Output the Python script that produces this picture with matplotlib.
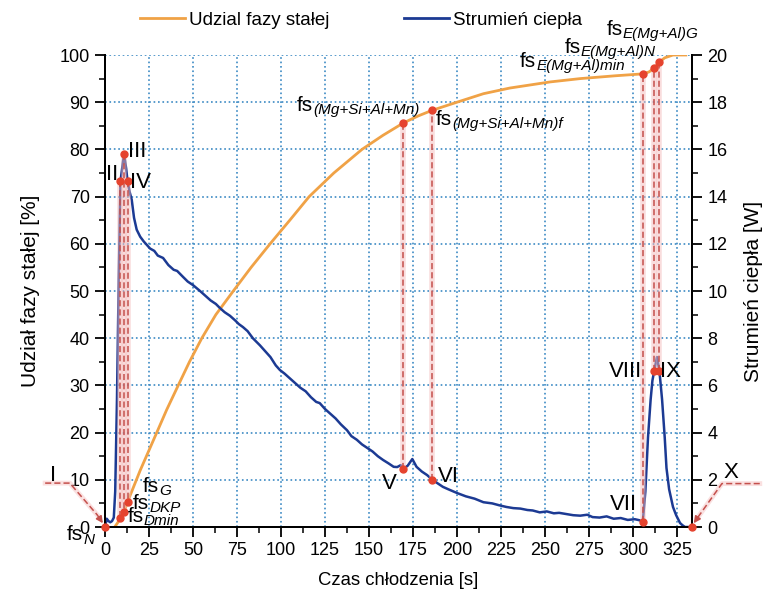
import matplotlib
matplotlib.use("Agg")
import matplotlib.pyplot as plt
from matplotlib.ticker import MultipleLocator
from matplotlib.lines import Line2D

plt.rcParams['font.family'] = ['Liberation Sans', 'DejaVu Sans']

# heat flow curve (right axis, W)
time_hf = [0, 1, 2, 3, 4, 5, 5.8, 6.8, 7.8, 8.8, 10.8, 12.0, 12.8, 14.0, 15.2, 16.5, 18, 20, 22,
           25.6, 28, 30, 33, 36, 39, 41, 44.3, 47, 50, 54, 57, 60, 63, 65, 68, 71, 74, 76,
           78.4, 81, 84, 88, 91, 94, 97, 99.4, 102, 105, 108, 111, 114, 117, 120, 122, 125,
           128, 131, 134, 137.5, 140, 143, 146, 149, 152, 155, 158, 161, 164, 166, 168,
           169.5, 172, 174.6, 177, 180, 183, 186, 189, 192, 195, 200, 205, 210, 215, 220,
           224, 228, 232, 236, 240, 243, 247, 251, 255, 258, 262, 266, 270, 274, 277, 281,
           285, 289, 293, 297, 301, 304, 305.5, 307, 308.5, 310, 311, 312, 313.6, 315,
           316.5, 318, 319, 320.5, 322.7, 324.5, 326.7, 328, 329.5, 333.5]
heat_flow = [0.0, 0.35, 0.25, 0.2, 0.25, 0.4, 1.5, 5.4, 10.5, 14.66, 15.8, 15.2, 14.66, 14.2,
             13.86, 13.1, 12.6, 12.3, 12.1, 11.8, 11.7, 11.5, 11.4, 11.1, 10.9, 10.85, 10.6,
             10.4, 10.25, 10.0, 9.8, 9.6, 9.45, 9.3, 9.1, 8.95, 8.75, 8.6, 8.47, 8.3, 8.0,
             7.7, 7.45, 7.2, 6.85, 6.65, 6.5, 6.3, 6.1, 5.9, 5.75, 5.5, 5.3, 5.25, 5.0, 4.8,
             4.6, 4.35, 4.1, 3.85, 3.7, 3.5, 3.35, 3.2, 3.0, 2.84, 2.7, 2.55, 2.54, 2.62,
             2.46, 2.6, 2.88, 2.55, 2.35, 2.2, 2.0, 1.85, 1.7, 1.6, 1.44, 1.3, 1.2, 1.05,
             1.0, 0.92, 0.85, 0.8, 0.78, 0.72, 0.7, 0.62, 0.66, 0.58, 0.6, 0.55, 0.5, 0.48,
             0.52, 0.42, 0.4, 0.45, 0.35, 0.38, 0.3, 0.33, 0.28, 0.2, 1.5, 3.8, 5.4, 6.2,
             6.6, 7.2, 6.6, 5.4, 3.8, 2.5, 1.6, 0.85, 0.5, 0.17, 0.08, 0.0, 0.0]

# solid fraction curve (left axis, %)
time_fs = [5.5, 7, 8.8, 10.8, 12.8, 20, 29.4, 35, 41.6, 48, 55, 63, 72.9, 83, 93.8, 105, 116,
           130, 146, 158, 169.5, 178, 186, 200, 215, 230, 253, 270, 290, 305.5, 309, 312,
           315, 318, 322.7, 330]
solid_frac = [0, 0.8, 1.9, 3.2, 5.3, 12.0, 20, 24.8, 30, 35, 40, 45, 50, 55, 60, 65, 70,
              75, 80, 83, 85.6, 87.1, 88.3, 90, 91.8, 93, 94.3, 95, 95.6, 96.0, 96.4, 97.2,
              98.5, 99.4, 100, 100]

# characteristic points
event_t = [8.8, 10.8, 12.8, 169.5, 186, 305.5, 312, 315]
event_hf = [14.66, 15.8, 14.66, 2.46, 2.0, 0.2, 6.6, 6.6]
event_fs = [1.9, 3.2, 5.3, 85.6, 88.3, 96.0, 97.2, 98.5]
end_t = [0, 333.5]

orange = '#f0a246'
blue = '#1c3a93'
red = '#e5432e'
dash_red = '#c4504c'

fig = plt.figure(figsize=(7.67, 6.01), dpi=100)
ax1 = fig.add_axes([105 / 767, 1 - 527 / 601, 587 / 767, 472 / 601])
ax2 = ax1.twinx()

ax1.plot(time_fs, solid_frac, color=orange, lw=2.0)
ax2.plot(time_hf, heat_flow, color=blue, lw=1.8)

ax1.set_xlim(0, 333.5)
ax1.set_ylim(0, 100)
ax2.set_ylim(0, 20)

ax1.xaxis.set_major_locator(MultipleLocator(25))
ax1.xaxis.set_minor_locator(MultipleLocator(12.5))
ax1.yaxis.set_major_locator(MultipleLocator(10))
ax1.yaxis.set_minor_locator(MultipleLocator(5))
ax2.yaxis.set_major_locator(MultipleLocator(2))
ax2.yaxis.set_minor_locator(MultipleLocator(1))

for a in (ax1, ax2):
    a.spines['top'].set_visible(False)
    for s in a.spines.values():
        s.set_linewidth(1.4)
    a.tick_params(which='major', direction='out', length=7, width=1.3, labelsize=13, pad=4)
    a.tick_params(which='minor', direction='out', length=4, width=1.1)

ax1.grid(True, which='major', color='#3c8ac4', linestyle=':', linewidth=1.2)
ax1.set_xlabel('Czas chłodzenia [s]', fontsize=13.3, labelpad=9)
ax1.set_ylabel('Udział fazy stałej [%]', fontsize=15, labelpad=14)
ax2.set_ylabel('Strumień ciepła [W]', fontsize=15, labelpad=12)

# dashed links between heat-flow points and solid fraction points
for t, h, f in zip(event_t, event_hf, event_fs):
    ax2.plot([t, t], [h, f / 5], color='#f4bcbc', lw=4, alpha=0.5, solid_capstyle='butt')
    ax2.plot([t, t], [h, f / 5], color=dash_red, lw=1.1, ls=(0, (4, 2)))
ax2.plot(event_t, event_hf, 'o', color=red, ms=5, zorder=5)
ax2.plot(event_t, [f / 5 for f in event_fs], 'o', color=red, ms=5, zorder=5)
ax2.plot(end_t, [0, 0], 'o', color=red, ms=5, zorder=5, clip_on=False)

tr = ax1.transData


def roman(x, y, s, ha='left'):
    ax2.text(x, y, s, transform=tr, fontsize=16, ha=ha, va='baseline', zorder=6)


def fs_label(x, y, sub):
    t = ax2.text(x, y, 'fs', transform=tr, fontsize=15, va='baseline', zorder=6)
    ax2.annotate(sub, xy=(1, 0), xycoords=t, xytext=(0, 0.5), textcoords='offset points',
                 fontsize=11, style='italic', va='baseline', ha='left', zorder=6)


roman(7.8, 73.5, 'II', ha='right')
roman(13, 78.4, 'III')
roman(14.2, 71.8, 'IV')
roman(157.4, 8.0, 'V')
roman(189, 9.5, 'VI')
roman(287, 3.6, 'VII')
roman(305, 31.8, 'VIII', ha='right')
roman(315.3, 31.8, 'IX')
roman(-31, 9.7, 'I')
roman(351.5, 10.4, 'X')

fs_label(-21.6, -2.8, 'N')
fs_label(21.6, 7.4, 'G')
fs_label(16, 3.8, 'DKP')
fs_label(13, 1.1, 'Dmin')
fs_label(109, 88.1, '(Mg+Si+Al+Mn)')
fs_label(188, 85.2, '(Mg+Si+Al+Mn)f')
fs_label(235.8, 97.5, 'E(Mg+Al)min')
fs_label(261, 100.4, 'E(Mg+Al)N')
fs_label(285, 104.2, 'E(Mg+Al)G')

# dashed pointers for the first and last point
for xs, ys, head in (([-34, -20, -4.5], [9.3, 9.3, 2.6], (-1.2, 0.8)),
                     ([372, 350.5, 337.5], [9.2, 9.2, 2.4], (334.5, 0.8))):
    ax1.plot(xs, ys, color='#f4bcbc', lw=3.5, alpha=0.45, clip_on=False)
    ax1.plot(xs, ys, color=dash_red, lw=1.1, ls=(0, (4, 2)), clip_on=False)
    ax1.annotate('', xy=head, xytext=(xs[-1], ys[-1]), annotation_clip=False,
                 arrowprops=dict(arrowstyle='-|>', color=dash_red, lw=1.1,
                                 mutation_scale=10, shrinkA=0, shrinkB=0))

handles = [Line2D([], [], color=orange, lw=2), Line2D([], [], color=blue, lw=2)]
fig.legend(handles, ['Udzial fazy stałej', 'Strumień ciepła'], loc='center left',
           bbox_to_anchor=(140 / 767, 1 - 20 / 601), ncol=2, frameon=False,
           fontsize=13.5, handlelength=2.4, handletextpad=0.2, columnspacing=4.0,
           borderpad=0, borderaxespad=0)

fig.savefig('out.png', dpi=100)
